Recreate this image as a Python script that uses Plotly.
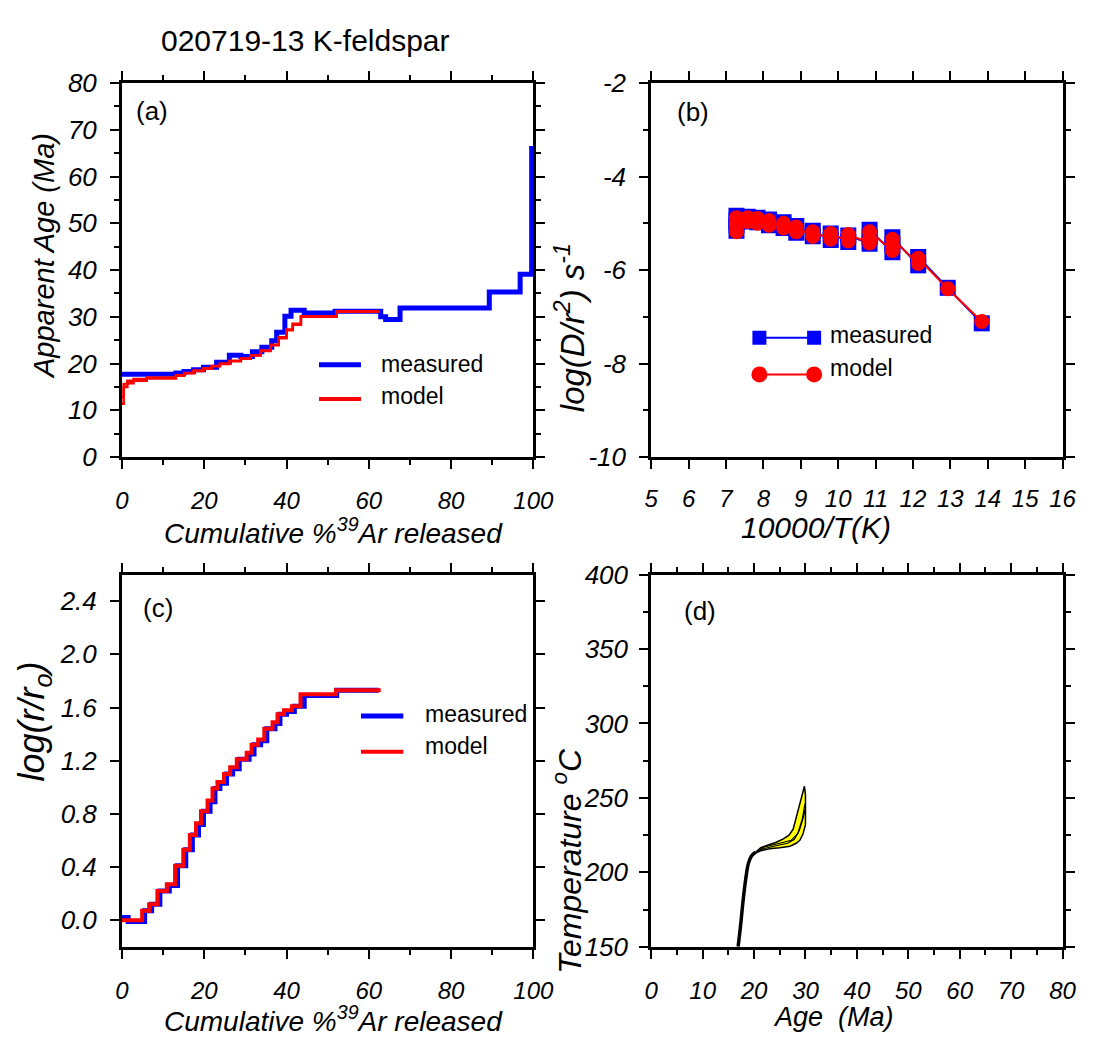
import plotly.graph_objects as go

# ---------------- data ----------------
# (a) age spectrum: step edges (cumulative %39Ar) and apparent ages (Ma)
a_meas_edges = [0, 13.1, 15.1, 17.4, 19.8, 23.0, 26.1, 28.9, 31.7, 34.0, 36.4, 37.6, 39.6,
                41.1, 44.3, 51.8, 62.9, 64.1, 67.6, 89.3, 96.8, 99.6, 100]
a_meas_age = [17.7, 18.0, 18.3, 18.7, 19.2, 20.3, 21.8, 21.5, 22.5, 23.5, 24.9, 26.7, 30.1,
              31.4, 30.8, 31.2, 30.0, 29.4, 31.9, 35.3, 39.1, 66.0]
a_model_edges = [0, 0.4, 1.3, 2.8, 6.0, 13.1, 15.1, 17.4, 19.8, 21.8, 23.8, 26.1, 28.9,
                 31.3, 33.7, 36.1, 38.1, 40.0, 41.5, 43.5, 52.2, 62.7]
a_model_age = [11.4, 15.6, 16.3, 16.7, 17.0, 17.5, 18.0, 18.5, 19.0, 19.5, 20.0, 20.6, 21.1,
               21.8, 22.8, 24.0, 25.6, 27.3, 28.5, 30.1, 31.2]
a_model2_age = [12.8, 15.0, 15.8, 16.3, 16.8, 17.4, 17.9, 18.4, 18.9, 19.4, 19.9, 20.5, 21.0,
                21.7, 22.7, 23.9, 25.4, 27.1, 28.3, 30.0, 31.1]

# (b) Arrhenius plot
b_x = [13.84, 12.93, 12.14, 12.14, 11.45, 11.45, 11.45, 10.84, 10.84, 10.84, 10.27, 10.27,
       9.80, 9.80, 9.32, 9.32, 8.88, 8.88, 8.54, 8.54, 8.15, 8.15, 7.84, 7.84, 7.58, 7.58,
       7.28, 7.28, 7.28, 7.28]
b_meas = [-7.14, -6.38, -5.72, -5.90, -5.30, -5.46, -5.62, -5.14, -5.30, -5.44, -5.26, -5.40,
          -5.22, -5.36, -5.16, -5.28, -5.06, -5.20, -4.98, -5.10, -4.92, -5.04, -4.88, -4.98,
          -4.86, -4.96, -4.84, -4.94, -5.04, -5.16]
b_model = [-7.10, -6.40, -5.75, -5.86, -5.34, -5.48, -5.58, -5.18, -5.32, -5.42, -5.24, -5.38,
           -5.22, -5.34, -5.18, -5.28, -5.08, -5.18, -5.00, -5.10, -4.94, -5.04, -4.90, -5.00,
           -4.88, -4.96, -4.88, -4.98, -5.06, -5.18]

# (c) log(r/ro) spectrum
c_meas_edges = [0, 1.5, 5.5, 7.2, 9.2, 11.5, 13.5, 15.5, 17.1, 18.6, 19.8, 21.4, 22.6, 23.8,
                25.4, 26.9, 28.5, 30.9, 32.1, 33.7, 35.2, 37.2, 38.4, 40.0, 41.9, 44.3, 52.2, 62.4]
c_meas = [0.02, -0.01, 0.07, 0.12, 0.22, 0.26, 0.41, 0.53, 0.64, 0.72, 0.82, 0.89, 0.99, 1.03,
          1.10, 1.14, 1.21, 1.25, 1.32, 1.35, 1.44, 1.48, 1.55, 1.57, 1.61, 1.69, 1.73]
c_model_edges = [0, 4.9, 6.6, 8.6, 10.9, 12.9, 14.9, 16.5, 18.0, 19.2, 20.8, 22.0, 23.2, 24.8,
                 26.3, 27.9, 30.3, 31.5, 33.1, 34.6, 36.6, 37.8, 39.4, 41.3, 43.4, 52.0, 62.9]
c_model = [0.00, 0.07, 0.12, 0.22, 0.27, 0.41, 0.53, 0.64, 0.73, 0.82, 0.90, 0.99, 1.04,
           1.10, 1.15, 1.21, 1.26, 1.32, 1.36, 1.44, 1.49, 1.55, 1.58, 1.61, 1.70, 1.73]

# (d) thermal history (age Ma, temperature C)
d_trunk_age = [16.9, 17.4, 17.9, 18.4, 18.9, 19.5, 20.3]
d_trunk_temp = [150, 165, 182, 196, 206, 211, 213.5]
d_upper_age = [20.3, 21.3, 22.6, 24.2, 25.7, 26.8, 27.6, 28.3, 29.1, 29.8]
d_upper_temp = [213.5, 216.5, 218.2, 220.0, 222.5, 225.0, 229.0, 238.0, 248.0, 257.8]
d_lower_age = [20.3, 21.3, 23.0, 25.0, 27.0, 28.2, 28.9, 29.5, 30.0, 30.0]
d_lower_temp = [213.0, 214.5, 215.8, 216.5, 217.5, 219.5, 221.5, 225.5, 232.0, 252.0]
d_mid_age = [20.3, 22.0, 24.5, 26.5, 27.8, 28.8, 29.5, 30.0]
d_mid_temp = [213.3, 216.0, 218.0, 219.5, 222.0, 228.0, 236.0, 243.0]
d_mid2_age = [20.3, 22.0, 25.0, 27.2, 28.5, 29.4, 29.9]
d_mid2_temp = [213.5, 217.0, 219.5, 221.5, 226.0, 236.0, 246.0]

BLUE = "#0000FF"
RED = "#FF0000"
FONT = "Liberation Sans"
W, H = 1104, 1055


def steps(edges, vals):
    return list(edges), list(vals) + [vals[-1]]


fig = go.Figure()

# (a)
x, y = steps(a_meas_edges, a_meas_age)
fig.add_trace(go.Scatter(x=x, y=y, mode="lines", line=dict(shape="hv", color=BLUE, width=5),
                         xaxis="x", yaxis="y"))
for vals in (a_model2_age, a_model_age):
    x, y = steps(a_model_edges, vals)
    fig.add_trace(go.Scatter(x=x, y=y, mode="lines", line=dict(shape="hv", color=RED, width=2.5),
                             xaxis="x", yaxis="y"))

# (b)
fig.add_trace(go.Scatter(x=b_x, y=b_meas, mode="lines+markers",
                         line=dict(color=BLUE, width=2),
                         marker=dict(symbol="square", size=16, color=BLUE),
                         xaxis="x2", yaxis="y2"))
fig.add_trace(go.Scatter(x=b_x, y=b_model, mode="lines+markers",
                         line=dict(color=RED, width=2),
                         marker=dict(symbol="circle", size=15, color=RED),
                         xaxis="x2", yaxis="y2"))

# (c)
x, y = steps(c_meas_edges, c_meas)
fig.add_trace(go.Scatter(x=x, y=y, mode="lines", line=dict(shape="hv", color=BLUE, width=5),
                         xaxis="x3", yaxis="y3"))
x, y = steps(c_model_edges, c_model)
fig.add_trace(go.Scatter(x=x, y=y, mode="lines", line=dict(shape="hv", color=RED, width=4),
                         xaxis="x3", yaxis="y3"))

# (d)
fig.add_trace(go.Scatter(x=d_upper_age + d_lower_age[::-1],
                         y=d_upper_temp + d_lower_temp[::-1],
                         mode="lines", fill="toself", fillcolor="#FFFF00",
                         line=dict(color="black", width=1.5), xaxis="x4", yaxis="y4"))
for ax, tp in ((d_mid_age, d_mid_temp), (d_mid2_age, d_mid2_temp)):
    fig.add_trace(go.Scatter(x=ax, y=tp, mode="lines", line=dict(color="black", width=1.2),
                             xaxis="x4", yaxis="y4"))
fig.add_trace(go.Scatter(x=d_trunk_age, y=d_trunk_temp, mode="lines",
                         line=dict(color="black", width=3.5, shape="spline"),
                         xaxis="x4", yaxis="y4"))

# ---------------- axes ----------------
xa = [118 / W, 540 / W]
xb = [661 / W, 1083 / W]
ytop = [1 - 455 / H, 1 - 70 / H]
ybot = [1 - 959 / H, 1 - 576 / H]

xtickfont = dict(family=FONT, size=24, color="black", style="italic")
ytickfont = dict(family=FONT, size=26, color="black", style="italic")


def axis(domain, rng, dtick, minor_dtick=None, anchor=None, font=None, standoff=8, **kw):
    d = dict(domain=domain, range=rng, dtick=dtick, tick0=rng[0] if "tick0" not in kw else kw.pop("tick0"),
             showline=True, linecolor="black", linewidth=3, mirror="allticks",
             ticks="outside", ticklen=9, tickwidth=2, tickcolor="black",
             showgrid=False, zeroline=False, tickfont=font, anchor=anchor,
             ticklabelstandoff=standoff)
    if minor_dtick:
        d["minor"] = dict(dtick=minor_dtick, ticks="outside", ticklen=5, tickwidth=2,
                          tickcolor="black", showgrid=False)
    d.update(kw)
    return d


fig.update_layout(
    width=W, height=H, margin=dict(l=0, r=0, t=0, b=0),
    paper_bgcolor="white", plot_bgcolor="white", showlegend=False,
    xaxis=axis(xa, [0, 100], 20, 10, anchor="y", font=xtickfont, standoff=11),
    yaxis=axis(ytop, [0, 80], 10, 5, anchor="x", font=ytickfont),
    xaxis2=axis(xb, [5, 16], 1, None, anchor="y2", font=xtickfont, standoff=9),
    yaxis2=axis(ytop, [-10, -2], 2, 1, anchor="x2", font=ytickfont,
                tickvals=[-10, -8, -6, -4, -2], ticktext=["-10", "-8", "-6", "-4", "-2"]),
    xaxis3=axis(xa, [0, 100], 20, 10, anchor="y3", font=xtickfont, standoff=11),
    yaxis3=axis(ybot, [-0.2, 2.6], 0.4, None, anchor="x3", font=ytickfont, tick0=0,
                tickformat=".1f"),
    xaxis4=axis(xb, [0, 80], 10, 5, anchor="y4", font=xtickfont, standoff=11),
    yaxis4=axis(ybot, [150, 400], 50, 25, anchor="x4", font=ytickfont, standoff=6),
)


# ---------------- text ----------------
def ann(text, px, py, size=28, angle=0, italic=True, xanchor="center"):
    fig.add_annotation(text=f"<i>{text}</i>" if italic else text,
                       x=px / W, y=1 - py / H, xref="paper", yref="paper",
                       showarrow=False, textangle=angle, xanchor=xanchor, yanchor="middle",
                       font=dict(family=FONT, size=size, color="black"))


ann("020719-13 K-feldspar", 306, 26, size=30, italic=False)
ann("Apparent Age (Ma)", 38, 248, size=29, angle=-90)
ann("Cumulative %<sup>39</sup>Ar released", 335, 531)
ann("log(D/r<sup>2</sup>) s<sup>-1</sup>", 578, 322, size=33, angle=-90)
ann("10000/T(K)", 830, 528, size=30)
ann("log(r/r<sub>o</sub>)", 28, 727, size=36, angle=-90)
ann("Cumulative %<sup>39</sup>Ar released", 335, 1033)
ann("Temperature <sup>o</sup>C", 575, 870, size=32, angle=-90)
ann("Age  (Ma)", 848, 1031, size=27)

for lab, px, py in (("(a)", 130, 99), ("(b)", 685, 100), ("(c)", 137, 610), ("(d)", 693, 613)):
    ann(lab, px, py, size=26, italic=False, xanchor="left")


# ---------------- legends ----------------
def dom_line(xr, yr, x0, x1, yv, color, width):
    fig.add_shape(type="line", xref=xr, yref=yr, x0=x0, x1=x1, y0=yv, y1=yv,
                  line=dict(color=color, width=width))


def dom_text(xr, yr, xv, yv, text):
    fig.add_annotation(text=text, xref=xr, yref=yr, x=xv, y=yv, showarrow=False,
                       xanchor="left", yanchor="middle",
                       font=dict(family=FONT, size=23, color="black"))


# (a)
dom_line("x domain", "y domain", 0.479, 0.581, 0.247, BLUE, 5)
dom_line("x domain", "y domain", 0.479, 0.581, 0.155, RED, 4)
dom_text("x domain", "y domain", 0.625, 0.250, "measured")
dom_text("x domain", "y domain", 0.625, 0.163, "model")

# (b)
dom_line("x2 domain", "y2 domain", 0.263, 0.396, 0.319, BLUE, 2)
dom_line("x2 domain", "y2 domain", 0.263, 0.396, 0.221, RED, 2)
for xv in (0.263, 0.396):
    fig.add_shape(type="rect", xref="x2 domain", yref="y2 domain", xsizemode="pixel",
                  ysizemode="pixel", xanchor=xv, yanchor=0.319, x0=-7, x1=7, y0=-7, y1=7,
                  fillcolor=BLUE, line=dict(width=0))
    fig.add_shape(type="circle", xref="x2 domain", yref="y2 domain", xsizemode="pixel",
                  ysizemode="pixel", xanchor=xv, yanchor=0.221, x0=-8, x1=8, y0=-8, y1=8,
                  fillcolor=RED, line=dict(width=0))
dom_text("x2 domain", "y2 domain", 0.429, 0.325, "measured")
dom_text("x2 domain", "y2 domain", 0.429, 0.237, "model")

# (c)
dom_line("x3 domain", "y3 domain", 0.581, 0.684, 0.620, BLUE, 5)
dom_line("x3 domain", "y3 domain", 0.581, 0.684, 0.524, RED, 4)
dom_text("x3 domain", "y3 domain", 0.7315, 0.625, "measured")
dom_text("x3 domain", "y3 domain", 0.7315, 0.539, "model")

fig.write_html("out.html")
